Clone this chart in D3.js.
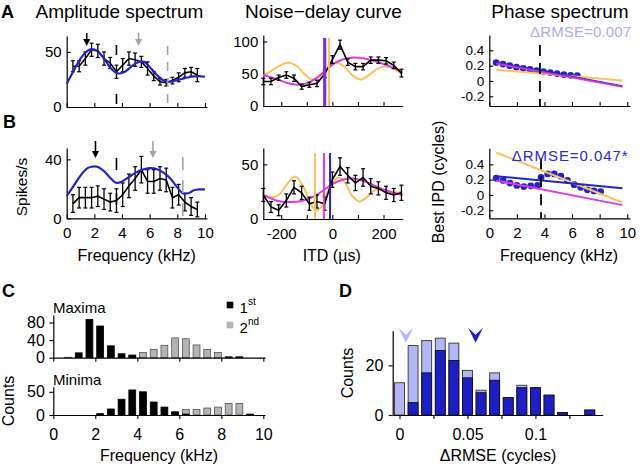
<!DOCTYPE html>
<html><head><meta charset="utf-8">
<script src="https://cdn.jsdelivr.net/npm/d3@7"></script>
<style>
body{margin:0;background:#fff}
text{font-family:"Liberation Sans",Arial,Helvetica,sans-serif}
</style></head><body>
<svg id="chart" width="640" height="465"></svg>
<script>
// ---------------- data ----------------
// Panel A/B left: amplitude spectrum
const ampFreq = [0.45,0.9,1.35,1.8,2.25,2.7,3.15,3.6,4.05,4.5,4.95,5.4,5.85,6.3,6.75,7.2,7.65,8.1,8.55,9.0,9.45];
const ampA    = [37,37,44,52,51,44,40,32,38,44,43,41,35,28,23,22,24,27,31,32,29];
const ampAErr = [5,5,6,6,6,6,5,6,6,6,6,5,6,4,3,3,3,4,4,4,6];
const ampB    = [10,14,14,14,15,13,11,12,16,22,27,33,25,25,27,26,14,16,11,8,6];
const ampBErr = [6,7,7,7,7,7,6,8,8,8,8,9,8,8,8,8,7,7,6,6,5];
const blueAF  = [0,0.5,1,1.5,1.8,2.2,2.7,3.2,3.7,4.2,4.7,5.2,5.6,6.1,6.6,7.1,7.5,8,8.5,9,9.5,10];
const blueAV  = [21,33,44,51,52.5,51,44,35,30.5,32,37,41,41,35,28,23.5,23,24.5,26,27.5,28,27.5];
const blueBF  = [0,0.5,1,1.5,1.8,2.2,2.7,3.2,3.6,4,4.5,5,5.5,6,6.5,7,7.5,8,8.4,8.8,9.2,9.6,10];
const blueBV  = [15,22,29,34,35,35,32,27,24,25,28,31,33,34,33.5,31,27,21,17,17,19,19.6,19.6];
const arrowsA = [1.45, 5.2];   // black, gray
const arrowsB = [2.08, 6.24];
const dashA   = [3.6, 7.3];    // black, gray
const dashB   = [3.6, 8.4];

// Panel A/B middle: noise-delay curves
const itd   = [-270,-240,-210,-180,-150,-120,-90,-60,-30,0,30,60,90,120,150,180,210,240,270];
const ndA   = [38,38,44,48,43,30,33,35,50,72,95,68,61,61,71,71,70,63,51];
const ndAErr= [5,5,4,5,5,4,4,5,6,6,7,5,5,5,5,5,5,5,6];
const ndB   = [22,11,8,17,29,24,14,16,14,36,48,40,33,38,30,28,24,22,24];
const ndBErr= [6,5,5,6,6,6,6,6,6,7,8,7,7,8,7,6,6,6,7];
const orAX  = [-270,-240,-205,-170,-140,-110,-80,-50,-20,15,50,80,110,140,170,200,230,260,275];
const orAV  = [47,54,63,67,62,50,41,45,57,67,60,47,41,47,56,61,59,53,50];
const mgAX  = [-270,-220,-180,-140,-100,-60,-30,0,40,80,120,160,200,240,275];
const mgAV  = [48,42,36,33,35,44,54,64,72,75,74,70,65,59,52];
const orBX  = [-270,-240,-210,-180,-145,-110,-80,-60,-40,-20,0,25,50,75,105,135,170,200,230,275];
const orBV  = [23,20,22,31,39,28,12,8,12,24,33,38,33,22,16,20,27,26,24,25];
const mgBX  = [-270,-220,-170,-120,-70,-30,0,40,80,120,160,200,240,275];
const mgBV  = [22,17,15.5,16.5,21,27,32,36,37,35,31,27,24,22];
const bdA   = {magenta:-30, blue:-30, orange:-13};
const bdB   = {magenta:-33, blue:-9, orange:-68};

// Panel A/B right: phase spectrum
const phAF  = [0.5,0.99,1.48,1.97,2.46,2.95,3.44,3.93,4.42,4.91,5.4,5.89,6.38];
const phAV  = [0.24,0.22,0.20,0.18,0.165,0.15,0.135,0.12,0.11,0.096,0.083,0.074,0.07];
const phB1F = [0.5,1.0,1.5,2.0,2.5,3.0,3.5];
const phB1V = [0.22,0.19,0.155,0.125,0.11,0.12,0.125];
const phB2F = [3.75,4.23,4.71,5.19,5.67,6.15,6.63,7.11,7.59,8.07];
const phB2V = [0.23,0.275,0.275,0.245,0.19,0.135,0.10,0.067,0.053,0.044];
const fitF  = [0.5, 9.65];
const fitABlue = [0.24,-0.068], fitAMag = [0.228,-0.075], fitAOr = [0.145,0.005];
const fitBBlue = [0.245,0.089], fitBMag = [0.19,-0.133], fitBOr = [0.555,-0.098];
const cutA = 3.67, cutB = 3.75;
const rmseA = "ΔRMSE=0.007", rmseB = "ΔRMSE=0.047*";

// Panel C histograms
const cBins   = [0.7,1.21,1.72,2.23,2.74,3.25,3.76,4.27,4.78,5.29,5.8,6.31,6.82,7.33,7.84,8.35,8.86,9.37];
const maxFirst  = [0,11,87,72,27,9,6,0,0,0,0,0,0,0,0,2,2,0];
const maxSecond = [1,0,0,0,0,0,4,12,19,28,45,43,29,19,12,0,0,0];
const minFirst  = [0,0,0,3,13,34,54,50,28,17,7,2,0,0,0,0,0,2];
const minSecond = [0,0,0,0,0,0,0,0,0,0,5,12,12,15,17,25,25,0];

// Panel D histogram
const dBins = [0,0.01,0.02,0.03,0.04,0.05,0.06,0.07,0.08,0.09,0.10,0.11,0.12,0.13,0.14];
const dAll  = [13,28,30,31,29,18,10,17,7,12,11,8,1,0,2];
const dSig  = [0,5,17,26,22,15,9,14,7,11,11,8,1,0,2];
const dMedians = [0.0047, 0.056]; // all (light), significant (dark)

// ---------------- drawing ----------------
const svg = d3.select('#chart');
const FONT = '"Liberation Sans", Arial, Helvetica, sans-serif';
const BLUE='#2323c8', MAG='#dc3cdc', ORANGE='#f7c35f', GRAY='#a3a3a3';
const LIGHT='#b3b6f4', DARK='#1e1ec8';
const hy = s => s.replace('\u2212','-');

function txt(x,y,s,o={}){
  const t=svg.append('text').attr('x',x).attr('y',y).text(s)
    .attr('font-size',o.size||16).attr('text-anchor',o.anchor||'start').attr('fill',o.fill||'#000');
  if(o.bold) t.attr('font-weight','bold');
  if(o.rot) t.attr('transform',`rotate(-90,${x},${y})`);
  if(o.len) t.attr('textLength',o.len).attr('lengthAdjust','spacing');
  return t;
}
function axes(x,y,o){
  const ts = o.inward ? -4 : 4;
  const ax = d3.axisBottom(x).tickValues(o.xTicks).tickSizeInner(ts).tickSizeOuter(0).tickPadding(o.xPad||9.5);
  ax.tickFormat(o.xFmt || (()=>''));
  const ay = d3.axisLeft(y).tickValues(o.yTicks).tickSizeInner(ts).tickSizeOuter(0).tickPadding(o.yPad||5);
  if(o.yFmt) ay.tickFormat(o.yFmt);
  const gx=svg.append('g').attr('transform',`translate(0,${y.range()[0]})`).call(ax);
  const gy=svg.append('g').attr('transform',`translate(${x.range()[0]},0)`).call(ay);
  [gx,gy].forEach(g=>{g.attr('font-size',o.fs||15).attr('font-family',FONT);
    g.select('.domain').attr('stroke-width',1.2);
    g.selectAll('.tick line').attr('stroke-width',1.1);});
  if(o.yfs) gy.attr('font-size',o.yfs);
}
function errLine(x,y,F,V,E){
  const g=svg.append('g');
  g.append('path').datum(F.map((f,i)=>[f,V[i]])).attr('d',d3.line().x(d=>x(d[0])).y(d=>y(d[1])))
    .attr('fill','none').attr('stroke','#000').attr('stroke-width',1.6);
  F.forEach((f,i)=>{const cx=x(f);
    g.append('line').attr('x1',cx).attr('x2',cx).attr('y1',y(V[i]-E[i])).attr('y2',y(V[i]+E[i])).attr('stroke','#000').attr('stroke-width',1.3);
    [V[i]-E[i],V[i]+E[i]].forEach(v=>g.append('line').attr('x1',cx-2).attr('x2',cx+2).attr('y1',y(v)).attr('y2',y(v)).attr('stroke','#000').attr('stroke-width',1.2));
  });
}
function curve(x,y,F,V,color,w,op){
  svg.append('path').datum(F.map((f,i)=>[f,V[i]]))
    .attr('d',d3.line().curve(d3.curveCatmullRom).x(d=>x(d[0])).y(d=>y(d[1])))
    .attr('fill','none').attr('stroke',color).attr('stroke-width',w).attr('opacity',op||1);
}
function vline(x,y,f,color,w,topOff,dash,op){
  svg.append('line').attr('x1',x(f)).attr('x2',x(f)).attr('y1',y.range()[1]+topOff).attr('y2',y.range()[0])
    .attr('stroke',color).attr('stroke-width',w).attr('stroke-dasharray',dash||null).attr('opacity',op||1);
}
function arrow(x,f,color,top,tip){
  const cx=x(f);
  svg.append('line').attr('x1',cx).attr('x2',cx).attr('y1',top).attr('y2',tip-5).attr('stroke',color).attr('stroke-width',1.6);
  svg.append('path').attr('d',`M${cx-3.6},${tip-7}L${cx+3.6},${tip-7}L${cx},${tip}Z`).attr('fill',color);
}

// Scales
const xL  = d3.scaleLinear().domain([0,10.15]).range([66.7,207]);
const yAL = d3.scaleLinear().domain([0,64.5]).range([107,36]);
const yBL = d3.scaleLinear().domain([0,47.7]).range([218.3,148]);
const xM  = d3.scaleLinear().domain([-270,275]).range([263.3,402.7]);
const yAM = d3.scaleLinear().domain([0,110]).range([106,35]);
const yBM = d3.scaleLinear().domain([0,65]).range([219,148]);
const xR  = d3.scaleLinear().domain([0,10.2]).range([489.3,630]);
const yAR = d3.scaleLinear().domain([-0.327,0.6]).range([106,35]);
const yBR = d3.scaleLinear().domain([-0.305,0.61]).range([218.3,148.3]);
const xC  = d3.scaleLinear().domain([0,10.08]).range([53.3,265]);
const yCt = d3.scaleLinear().domain([0,97]).range([357.7,315]);
const yCb = d3.scaleLinear().domain([0,61]).range([415,386.7]);
const xD  = d3.scaleLinear().domain([-0.005,0.1495]).range([392.7,602.7]);
const yD  = d3.scaleLinear().domain([0,34]).range([415,330.7]);

const fTicks=[0,2,4,6,8,10];
const phFmt = d=> d===0?'0':hy(d3.format('.1f')(d));

// Titles and panel letters
txt(119.5,18,'Amplitude spectrum',{size:19,anchor:'middle'});
txt(323.5,18,'Noise\u2212delay curve',{size:19,anchor:'middle'});
txt(560,18,'Phase spectrum',{size:19,anchor:'middle'});
txt(1,18,'A',{size:18,bold:true});
txt(3,128,'B',{size:18,bold:true});
txt(2,297,'C',{size:18,bold:true});
txt(339,297,'D',{size:18,bold:true});

// ---- A left ----
axes(xL,yAL,{inward:true,xTicks:fTicks,yTicks:[0,50]});
errLine(xL,yAL,ampFreq,ampA,ampAErr);
curve(xL,yAL,blueAF,blueAV,BLUE,2.2);
vline(xL,yAL,dashA[0],'#000',1.6,9,'10,39');
vline(xL,yAL,dashA[1],GRAY,1.6,10,'9,7');
arrow(xL,arrowsA[0],'#000',33,46);
arrow(xL,arrowsA[1],GRAY,33,46);

// ---- B left ----
axes(xL,yBL,{inward:true,xTicks:fTicks,yTicks:[0,40],xFmt:d3.format('d')});
errLine(xL,yBL,ampFreq,ampB,ampBErr);
curve(xL,yBL,blueBF,blueBV,BLUE,2.2);
vline(xL,yBL,dashB[0],'#000',1.6,10,'12,23');
vline(xL,yBL,dashB[1],GRAY,1.6,9,'13,10');
arrow(xL,arrowsB[0],'#000',141,158);
arrow(xL,arrowsB[1],GRAY,141,158);
txt(27,187,'Spikes/s',{size:15.5,anchor:'middle',rot:true});
txt(136.7,261,'Frequency (kHz)',{size:16,anchor:'middle'});

// ---- A middle ----
axes(xM,yAM,{inward:true,xTicks:[-200,-100,0,100,200],yTicks:[0,50,100]});
curve(xM,yAM,orAX,orAV,ORANGE,2);
curve(xM,yAM,mgAX,mgAV,MAG,2);
errLine(xM,yAM,itd,ndA,ndAErr);
vline(xM,yAM,bdA.orange,ORANGE,2,3);
vline(xM,yAM,bdA.magenta,MAG,3,3);
vline(xM,yAM,bdA.blue,BLUE,3,3,null,0.5);

// ---- B middle ----
axes(xM,yBM,{inward:true,xTicks:[-200,-100,0,100,200],yTicks:[0,50],xFmt:d=>d%200===0?hy(d3.format('d')(d)):''});
curve(xM,yBM,orBX,orBV,ORANGE,2);
curve(xM,yBM,mgBX,mgBV,MAG,2);
errLine(xM,yBM,itd,ndB,ndBErr);
vline(xM,yBM,bdB.orange,ORANGE,2,5);
vline(xM,yBM,bdB.magenta,MAG,2,5);
vline(xM,yBM,bdB.blue,BLUE,2,5);
txt(331.7,261,'ITD (\u00b5s)',{size:16,anchor:'middle'});

// ---- A right ----
axes(xR,yAR,{inward:true,xTicks:fTicks,yTicks:[-0.2,0,0.2,0.4],yFmt:phFmt,yfs:13.5});
svg.append('g').selectAll('circle').data(phAF).join('circle')
  .attr('cx',(d)=>xR(d)).attr('cy',(d,i)=>yAR(phAV[i])).attr('r',3.4).attr('fill',BLUE);
function fit(x,y,vals,color,w,op){
  svg.append('path').datum(fitF.map((f,i)=>[f,vals[i]])).attr('d',d3.line().x(d=>x(d[0])).y(d=>y(d[1])))
    .attr('stroke',color).attr('stroke-width',w).attr('fill','none').attr('opacity',op||1);
}
fit(xR,yAR,fitAOr,ORANGE,2);
fit(xR,yAR,fitABlue,BLUE,2);
fit(xR,yAR,fitAMag,MAG,2,0.85);
vline(xR,yAR,cutA,'#000',1.8,10,'11,7');
txt(530,37,rmseA,{size:15,fill:'#a9adf2',len:101});

// ---- B right ----
axes(xR,yBR,{inward:true,xTicks:fTicks,yTicks:[-0.2,0,0.2,0.4],yFmt:phFmt,xFmt:d3.format('d'),yfs:13.5});
svg.append('g').selectAll('circle').data(phB1F.concat(phB2F)).join('circle')
  .attr('cx',d=>xR(d)).attr('cy',(d,i)=>yBR(phB1V.concat(phB2V)[i])).attr('r',3.4).attr('fill',BLUE);
fit(xR,yBR,fitBOr,ORANGE,2);
fit(xR,yBR,fitBBlue,BLUE,2);
fit(xR,yBR,fitBMag,MAG,2);
vline(xR,yBR,cutB,'#000',1.8,10,'11,7');
txt(511.7,161,rmseB,{size:15,fill:'#2a2ad0',len:116});
txt(444,182,'Best IPD (cycles)',{size:16,anchor:'middle',rot:true});
txt(559,261,'Frequency (kHz)',{size:16,anchor:'middle'});

// ---- C ----
const cw = (xC(0.51)-xC(0))*0.64;
function bars(y,vals,fill,stroke){
  svg.append('g').selectAll('rect').data(cBins).join('rect')
    .attr('x',d=>xC(d)-cw/2).attr('width',cw)
    .attr('y',(d,i)=>y(vals[i])).attr('height',(d,i)=>y(0)-y(vals[i]))
    .attr('fill',fill).attr('stroke',stroke).attr('stroke-width',0.8)
    .attr('display',(d,i)=>vals[i]>0?null:'none');
}
bars(yCt,maxSecond,'#b4b4b4','#555');
bars(yCt,maxFirst,'#000','#000');
bars(yCb,minSecond,'#b4b4b4','#555');
bars(yCb,minFirst,'#000','#000');
axes(xC,yCt,{inward:false,xTicks:fTicks,yTicks:[0,40,80],fs:16,yPad:4.5});
axes(xC,yCb,{inward:false,xTicks:fTicks,yTicks:[0,50],xFmt:d3.format('d'),fs:16,xPad:9.5,yPad:4.5});
txt(53,312.7,'Maxima',{size:15});
txt(53,385,'Minima',{size:15});
svg.append('rect').attr('x',226.7).attr('y',301.7).attr('width',6.6).attr('height',6.6).attr('fill','#000');
svg.append('rect').attr('x',226.7).attr('y',321.7).attr('width',6.6).attr('height',6.6).attr('fill','#b4b4b4');
txt(239.5,313.3,'1',{size:15}); txt(248,305,'st',{size:10});
txt(239.5,333.3,'2',{size:15}); txt(248,325,'nd',{size:10});
txt(14,401,'Counts',{size:16,anchor:'middle',rot:true});
txt(159,461,'Frequency (kHz)',{size:16,anchor:'middle'});

// ---- D ----
const dw = (xD(0.01)-xD(0))*0.73;
svg.append('g').selectAll('rect').data(dBins).join('rect')
  .attr('x',d=>xD(d)-dw/2).attr('width',dw)
  .attr('y',(d,i)=>yD(dAll[i])).attr('height',(d,i)=>yD(0)-yD(dAll[i]))
  .attr('fill',LIGHT).attr('stroke','#333').attr('stroke-width',0.9)
  .attr('display',(d,i)=>dAll[i]>0?null:'none');
svg.append('g').selectAll('rect').data(dBins).join('rect')
  .attr('x',d=>xD(d)-dw/2).attr('width',dw)
  .attr('y',(d,i)=>yD(dSig[i])).attr('height',(d,i)=>yD(0)-yD(dSig[i]))
  .attr('fill',DARK).attr('stroke','#111').attr('stroke-width',0.9)
  .attr('display',(d,i)=>dSig[i]>0?null:'none');
axes(xD,yD,{inward:false,xTicks:[0,0.025,0.05,0.075,0.1,0.125],yTicks:[0,20],
  xFmt:d=>(d===0?'0':(Math.abs(d-0.05)<1e-9?'0.05':(Math.abs(d-0.1)<1e-9?'0.1':''))),fs:16,xPad:9.5,yPad:5.4});
[[dMedians[0],LIGHT],[dMedians[1],DARK]].forEach(([m,c])=>{
  const cx=xD(m), t=yD.range()[1]-3;
  svg.append('path').attr('d',`M${cx-7.5},${t}L${cx},${t+15}L${cx+7.5},${t}L${cx},${t+7}Z`).attr('fill',c);
});
txt(353,373,'Counts',{size:16,anchor:'middle',rot:true});
txt(498,461,'\u0394RMSE (cycles)',{size:16,anchor:'middle'});
</script></body></html>
